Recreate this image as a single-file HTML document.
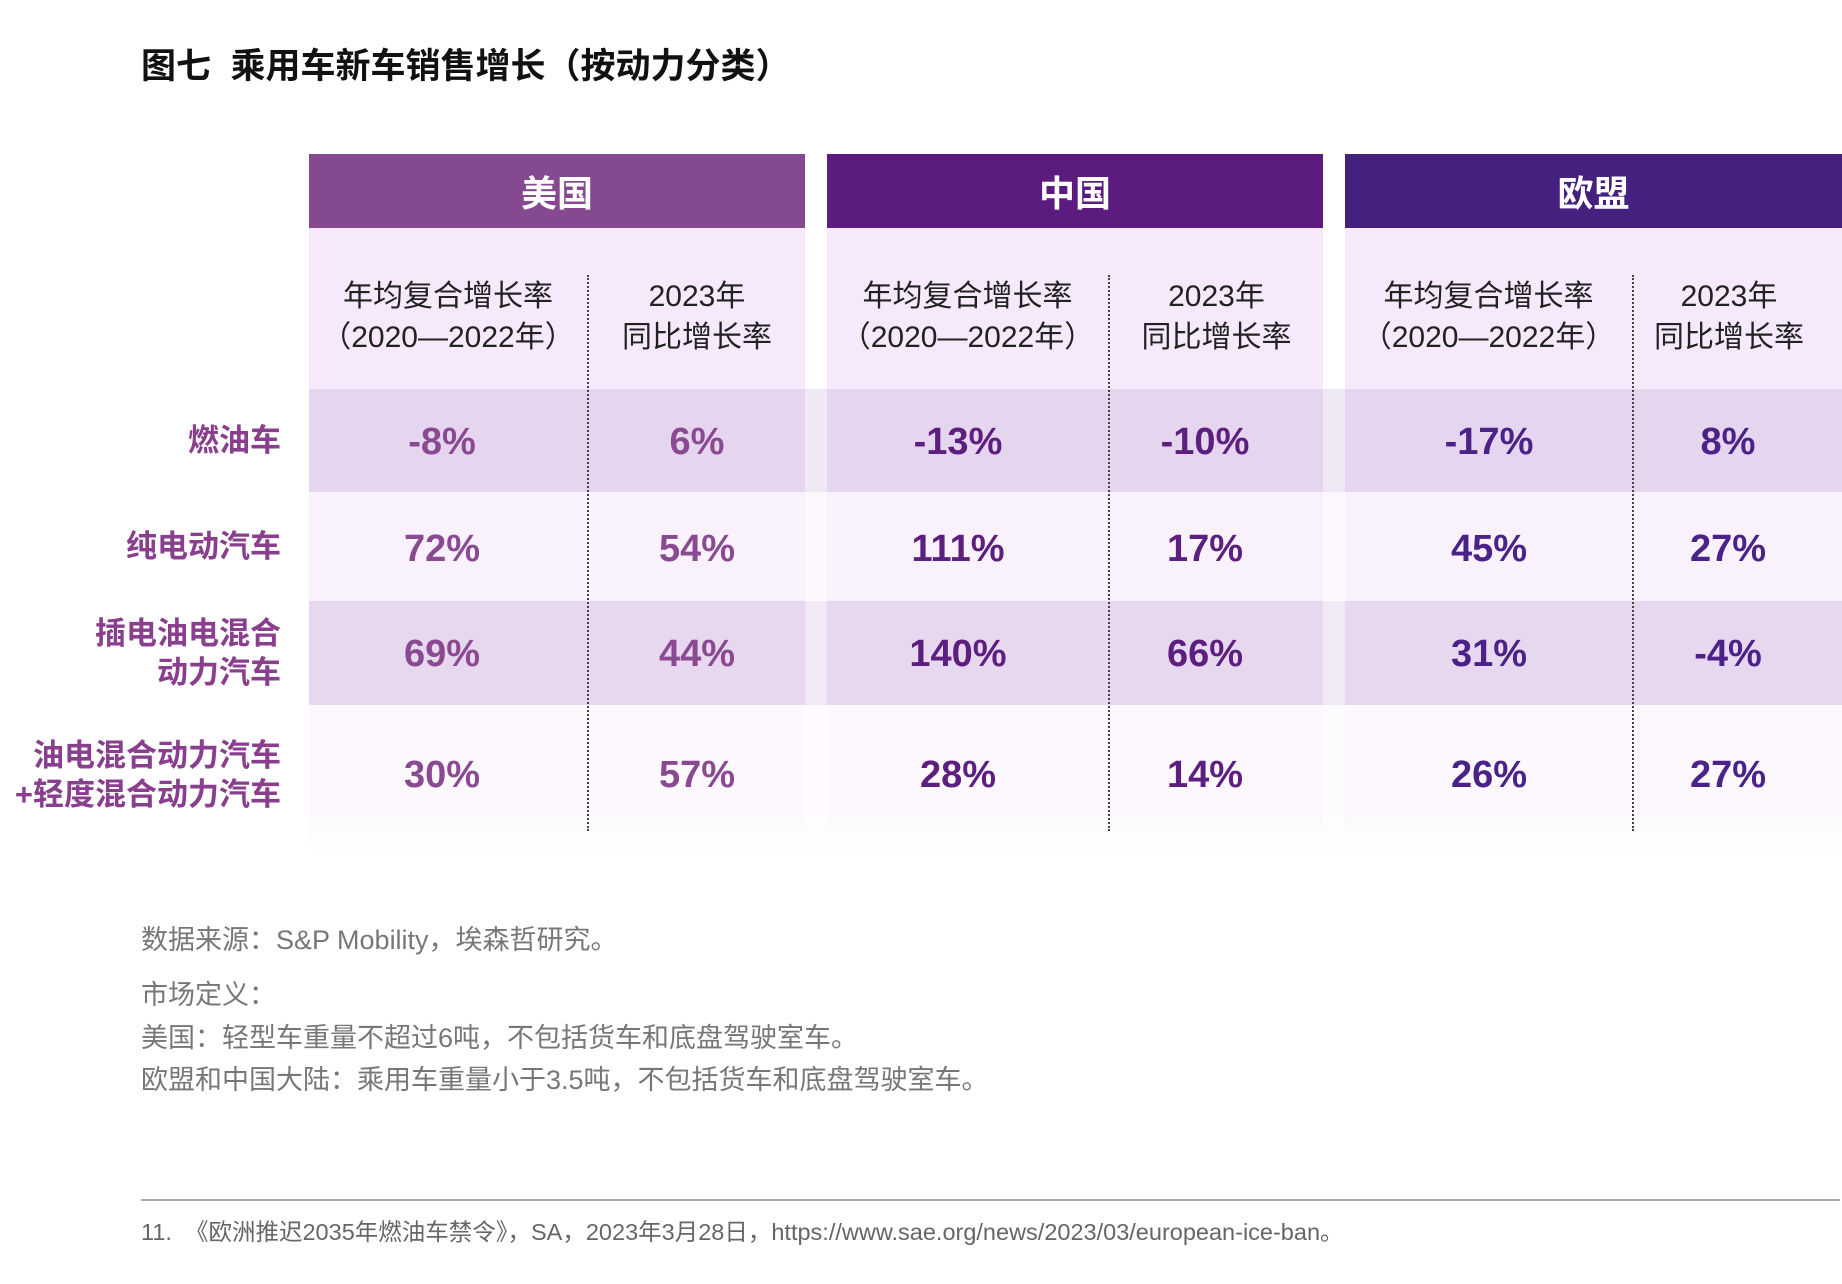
<!DOCTYPE html>
<html><head><meta charset="utf-8"><style>
body{margin:0;width:1842px;height:1284px;background:#fff;position:relative;overflow:hidden;font-family:"Liberation Sans","Noto Sans CJK SC",sans-serif;}
.a{position:absolute;}
.c{position:absolute;display:flex;align-items:center;justify-content:center;text-align:center;}
.h{color:#fff;font-weight:bold;font-size:36px;}
.sub{color:#222;font-size:30px;line-height:41px;}
.v{font-weight:bold;font-size:38px;}
.lab{position:absolute;right:1561px;color:#8a3f8e;font-weight:bold;font-size:31px;line-height:39px;text-align:right;display:flex;align-items:center;justify-content:flex-end;white-space:nowrap;}
.dot{position:absolute;top:275px;height:556px;border-left:2px dotted #444;width:0;}
.g{position:absolute;color:#777;font-size:27px;left:141px;}
</style></head><body>
<div class="a" style="left:141px;top:38px;font-size:35px;font-weight:bold;color:#111;">图七&nbsp; 乘用车新车销售增长（按动力分类）</div>

<div class="a" style="left:309px;top:228px;width:1533px;height:161px;background:#f5e9fb"></div>
<div class="a" style="left:309px;top:389px;width:1533px;height:103px;background:#e6d5ee"></div>
<div class="a" style="left:309px;top:492px;width:1533px;height:109px;background:#f9f2fc"></div>
<div class="a" style="left:309px;top:601px;width:1533px;height:104px;background:#e7d8ef"></div>
<div class="a" style="left:309px;top:705px;width:1533px;height:150px;background:linear-gradient(#fcf8fd 70%,#fff)"></div>
<div class="a" style="left:805px;top:154px;width:22px;height:235px;background:#fff"></div>
<div class="a" style="left:1323px;top:154px;width:22px;height:235px;background:#fff"></div>
<div class="a" style="left:805px;top:389px;width:22px;height:466px;background:rgba(255,255,255,0.45)"></div>
<div class="a" style="left:1323px;top:389px;width:22px;height:466px;background:rgba(255,255,255,0.45)"></div>

<div class="c h" style="left:309px;top:154px;width:496px;height:74px;background:#84498f">美国</div>
<div class="c h" style="left:827px;top:154px;width:496px;height:74px;background:#5c1b7e">中国</div>
<div class="c h" style="left:1345px;top:154px;width:497px;height:74px;background:#44207f">欧盟</div>

<div class="dot" style="left:587px"></div>
<div class="dot" style="left:1108px"></div>
<div class="dot" style="left:1632px"></div>

<div class="c sub" style="left:309px;top:275px;width:278px;height:84px">年均复合增长率<br>（2020—2022年）</div>
<div class="c sub" style="left:589px;top:275px;width:216px;height:84px">2023年<br>同比增长率</div>
<div class="c sub" style="left:827px;top:275px;width:281px;height:84px">年均复合增长率<br>（2020—2022年）</div>
<div class="c sub" style="left:1110px;top:275px;width:213px;height:84px">2023年<br>同比增长率</div>
<div class="c sub" style="left:1345px;top:275px;width:287px;height:84px">年均复合增长率<br>（2020—2022年）</div>
<div class="c sub" style="left:1634px;top:275px;width:190px;height:84px">2023年<br>同比增长率</div>

<div class="lab" style="top:389px;height:103px">燃油车</div>
<div class="lab" style="top:492px;height:109px">纯电动汽车</div>
<div class="lab" style="top:601px;height:104px">插电油电混合<br>动力汽车</div>
<div class="lab" style="top:705px;height:140px">油电混合动力汽车<br>+轻度混合动力汽车</div>

<div id="vals"></div>
<script>
var cols=[442,697,958,1205,1489,1728];
var colr=["#8a4a92","#8a4a92","#5c1f80","#5c1f80","#4a2288","#4a2288"];
var rows=[442,549,654,775];
var d=[["-8%","6%","-13%","-10%","-17%","8%"],["72%","54%","111%","17%","45%","27%"],["69%","44%","140%","66%","31%","-4%"],["30%","57%","28%","14%","26%","27%"]];
var h="";
for(var r=0;r<4;r++)for(var c=0;c<6;c++)h+='<div class="c v" style="left:'+(cols[c]-100)+'px;top:'+(rows[r]-25)+'px;width:200px;height:50px;color:'+colr[c]+'">'+d[r][c]+'</div>';
document.getElementById("vals").innerHTML=h;
</script>

<div class="g" style="top:918px">数据来源：S&amp;P Mobility，埃森哲研究。</div>
<div class="g" style="top:973px">市场定义：</div>
<div class="g" style="top:1016px">美国：轻型车重量不超过6吨，不包括货车和底盘驾驶室车。</div>
<div class="g" style="top:1058px">欧盟和中国大陆：乘用车重量小于3.5吨，不包括货车和底盘驾驶室车。</div>
<div class="a" style="left:141px;top:1199px;width:1699px;height:2px;background:#aaa"></div>
<div class="a" style="left:141px;top:1213px;font-size:23.5px;color:#666">11.&nbsp; 《欧洲推迟2035年燃油车禁令》，SA，2023年3月28日，https://www.sae.org/news/2023/03/european-ice-ban。</div>
</body></html>
